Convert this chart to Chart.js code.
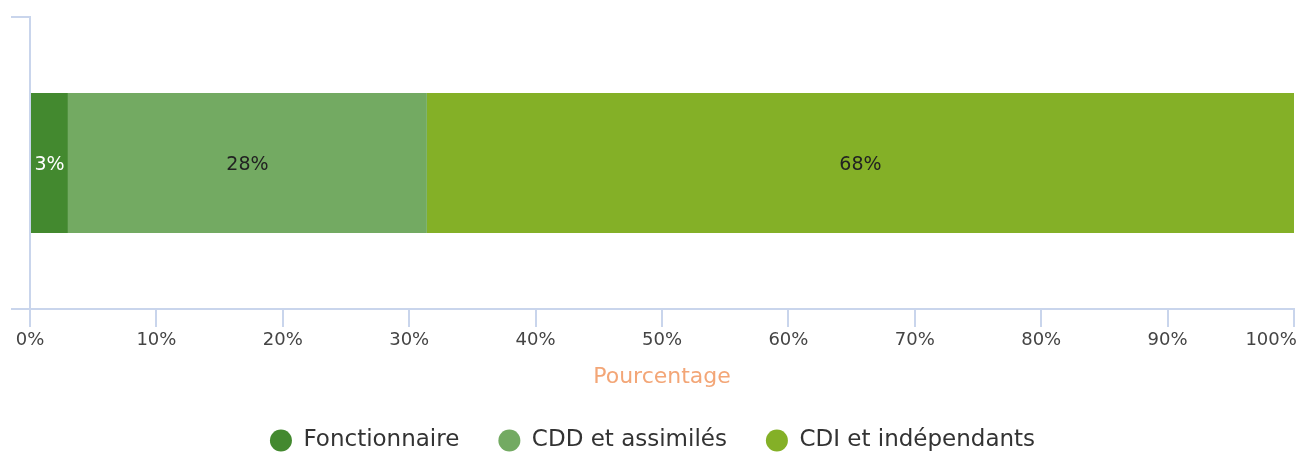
<!DOCTYPE html>
<html lang="fr">
<head>
<meta charset="utf-8">
<title>Répartition par contrat</title>
<script src="https://cdn.jsdelivr.net/npm/chart.js@4.4.1/dist/chart.umd.min.js"></script>
<style>
  html, body { margin: 0; padding: 0; background: #fff; }
  #wrap { width: 1297px; height: 455px; position: relative; }
</style>
</head>
<body>
<div id="wrap"><canvas id="contratChart"></canvas></div>
<script>
// Data
const categories = [""];
const seriesNames = ["Fonctionnaire", "CDD et assimilés", "CDI et indépendants"];
const fonctionnaire = [3.0];
const cddAssimiles = [28.4];
const cdiIndependants = [68.6];
const xTicks = [0, 10, 20, 30, 40, 50, 60, 70, 80, 90, 100];

const colors = ["#43892f", "#73aa62", "#84b027"];
const labelColors = ["#ffffff", "#222222", "#222222"];
const axisColor = "#c9d5ec";
const fontFamily = "'DejaVu Sans', sans-serif";

// Values written in the middle of each segment
const segmentLabels = {
  id: "segmentLabels",
  afterDatasetsDraw(chart) {
    const ctx = chart.ctx;
    ctx.save();
    ctx.font = "19px " + fontFamily;
    ctx.textAlign = "center";
    ctx.textBaseline = "middle";
    chart.data.datasets.forEach((ds, i) => {
      chart.getDatasetMeta(i).data.forEach((bar, j) => {
        const p = bar.getProps(["x", "y", "base"], true);
        ctx.fillStyle = labelColors[i];
        ctx.fillText(Math.floor(ds.data[j]) + "%", (p.x + p.base) / 2, p.y + 2);
      });
    });
    ctx.restore();
  }
};

// Fixed legend height so the plot area keeps its place
const legendHeight = {
  id: "legendHeight",
  beforeInit(chart) {
    const fit = chart.legend.fit;
    chart.legend.fit = function () {
      fit.call(this);
      this.height = 65;
    };
  }
};

const ctx = document.getElementById("contratChart").getContext("2d");
new Chart(ctx, {
  type: "bar",
  data: {
    labels: categories,
    datasets: [fonctionnaire, cddAssimiles, cdiIndependants].map((d, i) => ({
      label: seriesNames[i],
      data: d,
      backgroundColor: colors[i],
      borderWidth: 0,
      barPercentage: 0.6,
      categoryPercentage: 0.8
    }))
  },
  options: {
    indexAxis: "y",
    responsive: true,
    maintainAspectRatio: false,
    animation: false,
    layout: { padding: { top: 17, left: 11, right: 3, bottom: 0 } },
    plugins: {
      tooltip: { enabled: false },
      legend: {
        position: "bottom",
        labels: {
          usePointStyle: true,
          pointStyle: "circle",
          pointStyleWidth: 22,
          boxHeight: 15.5,
          padding: 39,
          color: "#333",
          font: { family: fontFamily, size: 23 }
        }
      }
    },
    scales: {
      x: {
        stacked: true,
        min: 0,
        max: 100,
        afterBuildTicks: s => { s.ticks = xTicks.map(v => ({ value: v })); },
        afterFit: s => { s.paddingRight = 0; },
        border: { color: axisColor, width: 2 },
        grid: { drawOnChartArea: false, color: axisColor, tickLength: 18, lineWidth: 2 },
        ticks: {
          color: "#444",
          padding: 3,
          font: { family: fontFamily, size: 18 },
          callback: v => v === 100 ? v + "%\u00a0\u00a0\u00a0\u00a0\u00a0\u00a0\u00a0\u00a0" : v + "%"
        },
        title: {
          display: true,
          text: "Pourcentage",
          color: "#f3a677",
          padding: { top: 9, bottom: 0 },
          font: { family: fontFamily, size: 22 }
        }
      },
      y: {
        stacked: true,
        border: { color: axisColor, width: 2 },
        grid: { drawOnChartArea: false, color: axisColor, tickLength: 19, lineWidth: 2 },
        ticks: { display: false }
      }
    }
  },
  plugins: [segmentLabels, legendHeight]
});
</script>
</body>
</html>
